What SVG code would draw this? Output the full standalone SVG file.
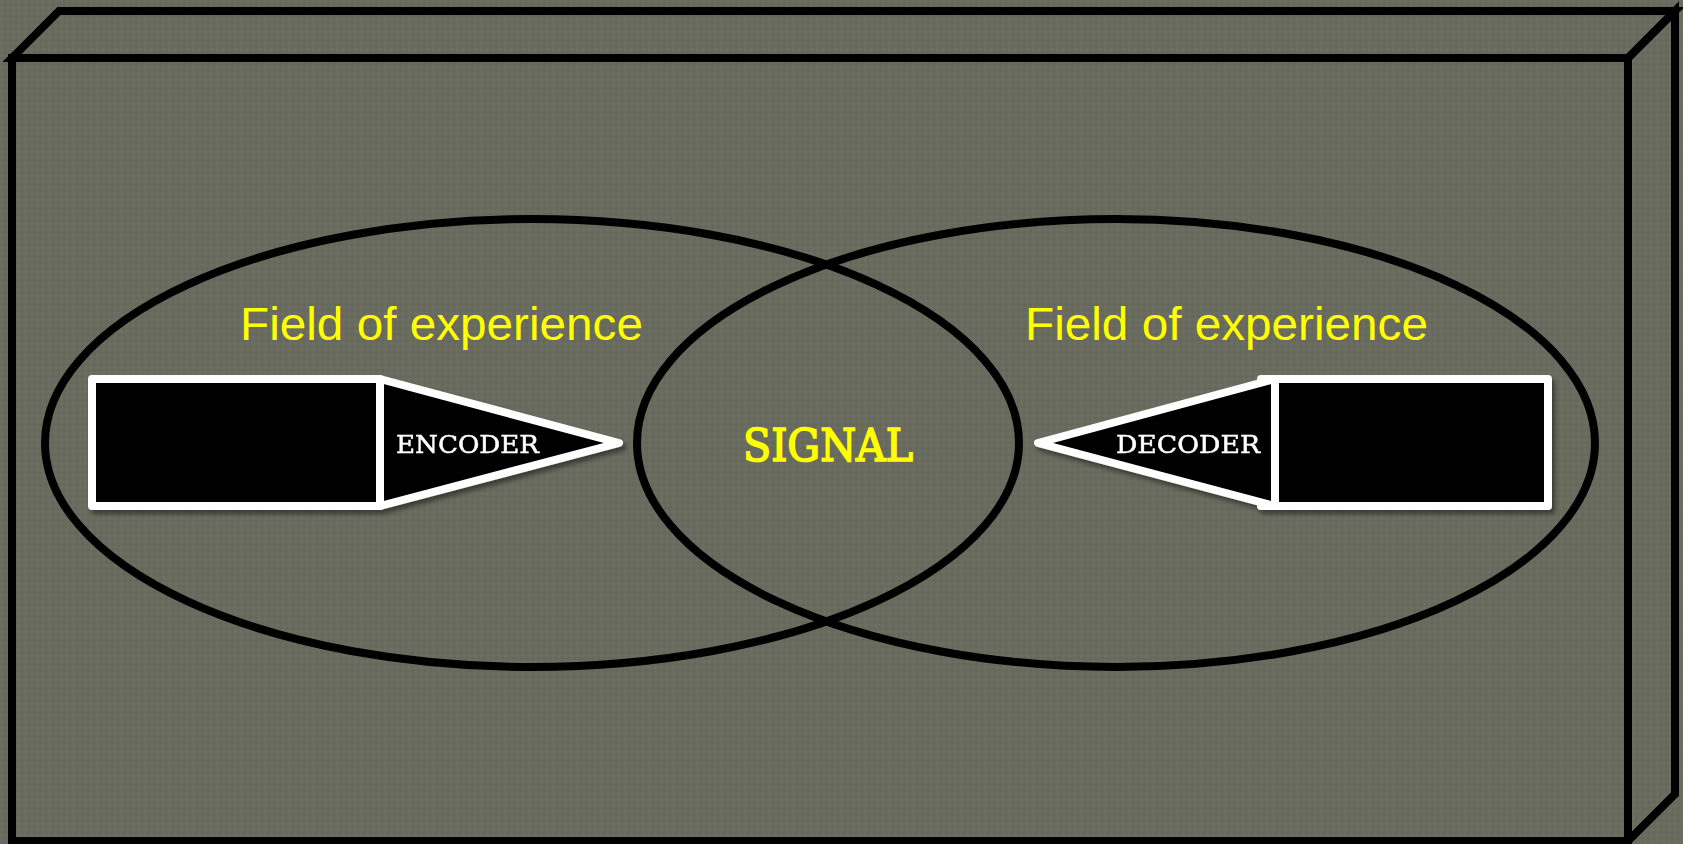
<svg xmlns="http://www.w3.org/2000/svg" width="1683" height="844" viewBox="0 0 1683 844">
  <defs>
    <!-- fine woven texture for the slate background -->
    <pattern id="weave" width="6" height="6" patternUnits="userSpaceOnUse">
      <rect width="6" height="6" fill="#686b5d"/>
      <rect width="3" height="3" fill="#6b6e60"/>
      <rect x="3" y="3" width="3" height="3" fill="#65685a"/>
    </pattern>
    <filter id="shadow" x="-10%" y="-20%" width="130%" height="150%">
      <feDropShadow dx="3" dy="4" stdDeviation="2.5" flood-color="#000" flood-opacity="0.45"/>
    </filter>
    <style>
      .edge { fill: none; stroke: #000; stroke-width: 8; stroke-linejoin: miter; }
      .field { fill: none; stroke: #000; stroke-width: 8; }
      .block { fill: #000; stroke: #fff; stroke-width: 8; stroke-linejoin: round; }
      .label { font-family: "DejaVu Serif", "Liberation Serif", serif; fill: #fff; stroke: #fff; stroke-width: 0.5; font-size: 25px; }
      .title { font-family: "Liberation Sans", Arial, sans-serif; fill: #ffff00; font-size: 47px; }
      .signal { font-family: "DejaVu Serif", "Liberation Serif", serif; fill: #ffff00; stroke: #ffff00; stroke-width: 1.6; font-size: 44px; }
    </style>
  </defs>

  <rect width="1683" height="844" fill="url(#weave)"/>

  <!-- 3D frame: front face, top bevel and right side -->
  <g id="frame">
    <rect class="edge" x="12" y="58" width="1616" height="783"/>
    <polygon class="edge" points="12,58 59,11 1675,11 1628,58"/>
    <polygon class="edge" points="1628,58 1675,11 1675,794 1628,841"/>
  </g>

  <!-- overlapping fields of experience -->
  <g id="field-sender">
    <ellipse class="field" cx="532" cy="443" rx="487" ry="224"/>
    <text class="title" x="240" y="340" textLength="403" lengthAdjust="spacingAndGlyphs">Field of experience</text>
  </g>
  <g id="field-receiver">
    <ellipse class="field" cx="1116" cy="443" rx="479" ry="224"/>
    <text class="title" x="1025" y="340" textLength="403" lengthAdjust="spacingAndGlyphs">Field of experience</text>
  </g>

  <g id="signal">
    <text class="signal" x="743" y="461" textLength="170" lengthAdjust="spacingAndGlyphs">SIGNAL</text>
  </g>

  <!-- encoder pencil pointing right -->
  <g id="encoder" filter="url(#shadow)">
    <rect class="block" x="92" y="379" width="288" height="127"/>
    <polygon class="block" points="380,379 619,443 380,506"/>
    <text class="label" x="396" y="453" textLength="143" lengthAdjust="spacingAndGlyphs">ENCODER</text>
  </g>

  <!-- decoder pencil pointing left -->
  <g id="decoder" filter="url(#shadow)">
    <rect class="block" x="1261" y="379" width="287" height="127"/>
    <polygon class="block" points="1275,379 1038,443 1275,506"/>
    <text class="label" x="1116" y="453" textLength="144" lengthAdjust="spacingAndGlyphs">DECODER</text>
  </g>

  <g id="connectors"/>
</svg>
